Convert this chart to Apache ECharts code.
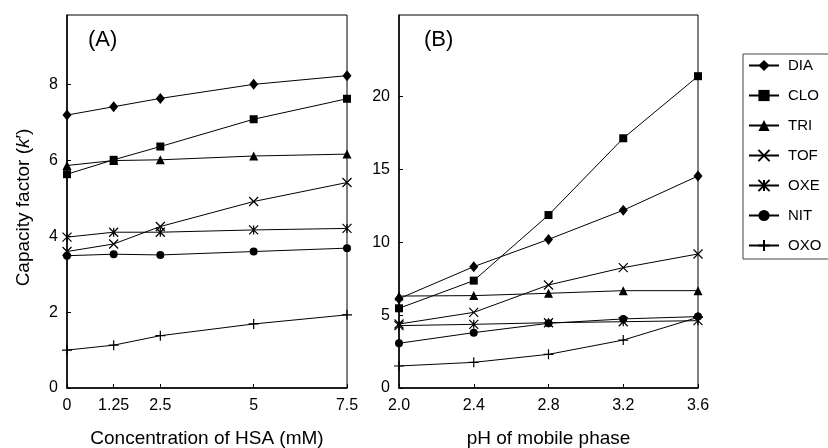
<!DOCTYPE html>
<html>
<head>
<meta charset="utf-8">
<script src="https://cdn.jsdelivr.net/npm/echarts@6/dist/echarts.min.js"></script>
<style>html,body{margin:0;padding:0;background:#fff}#c{width:828px;height:448px}</style>
</head>
<body>
<div id="c"></div>
<script>
// Panel A: concentration of HSA (mM)
const hsa = [0, 1.25, 2.5, 5, 7.5];
const hsaTicks = [0, 1.25, 2.5, 5, 7.5];
const kTicksA = [0, 2, 4, 6, 8];
const A_DIA = [7.2, 7.42, 7.64, 8.01, 8.24];
const A_CLO = [5.64, 6.02, 6.37, 7.09, 7.63];
const A_TRI = [5.87, 6.0, 6.02, 6.12, 6.17];
const A_TOF = [3.6, 3.8, 4.26, 4.92, 5.42];
const A_OXE = [3.98, 4.11, 4.11, 4.17, 4.21];
const A_NIT = [3.49, 3.53, 3.51, 3.6, 3.69];
const A_OXO = [1.0, 1.13, 1.38, 1.69, 1.93];

// Panel B: pH of mobile phase
const ph = [2.0, 2.4, 2.8, 3.2, 3.6];
const phTicks = [2.0, 2.4, 2.8, 3.2, 3.6];
const kTicksB = [0, 5, 10, 15, 20];
const B_DIA = [6.13, 8.33, 10.2, 12.2, 14.55];
const B_CLO = [5.47, 7.37, 11.87, 17.14, 21.4];
const B_TRI = [6.31, 6.34, 6.5, 6.68, 6.68];
const B_TOF = [4.39, 5.19, 7.07, 8.26, 9.2];
const B_OXE = [4.28, 4.37, 4.48, 4.55, 4.62];
const B_NIT = [3.07, 3.8, 4.44, 4.74, 4.9];
const B_OXO = [1.51, 1.76, 2.31, 3.29, 4.85];

const names = ['DIA', 'CLO', 'TRI', 'TOF', 'OXE', 'NIT', 'OXO'];
const dataA = [A_DIA, A_CLO, A_TRI, A_TOF, A_OXE, A_NIT, A_OXO];
const dataB = [B_DIA, B_CLO, B_TRI, B_TOF, B_OXE, B_NIT, B_OXO];

const symbols = {
  DIA: {symbol: 'diamond', size: [9, 11]},
  CLO: {symbol: 'rect', size: 8},
  TRI: {symbol: 'triangle', size: 9},
  TOF: {symbol: 'path://M0,0L10,10M10,0L0,10', size: 9},
  OXE: {symbol: 'path://M0,0L10,10M10,0L0,10M5,0L5,10', size: 9},
  NIT: {symbol: 'circle', size: 8},
  OXO: {symbol: 'path://M5,0L5,10M0,5L10,5', size: 10}
};

const font = 'Liberation Sans, Arial, sans-serif';

function mkSeries(idx, xs, arrs) {
  return names.map((n, i) => ({
    name: n,
    type: 'line',
    xAxisIndex: idx,
    yAxisIndex: idx,
    data: xs.map((x, j) => [x, arrs[i][j]]),
    symbol: symbols[n].symbol,
    symbolSize: symbols[n].size,
    showSymbol: true,
    animation: false,
    lineStyle: {color: '#000', width: 1},
    itemStyle: {color: '#000', borderColor: '#000', borderWidth: (n === 'TOF' || n === 'OXE' || n === 'OXO') ? 1.2 : 0},
    emphasis: {disabled: true}
  }));
}

function xAxis(idx, min, max, ticks, name, fmt) {
  return {
    type: 'value', gridIndex: idx, min: min, max: max,
    name: name, nameLocation: 'middle', nameGap: 41,
    nameTextStyle: {color: '#000', fontSize: 19, fontFamily: font},
    axisLine: {show: true, lineStyle: {color: '#000', width: 1.5}},
    axisTick: {show: true, inside: true, length: 4, customValues: ticks, lineStyle: {color: '#000'}},
    axisLabel: {customValues: ticks, color: '#000', fontSize: 16, fontFamily: font, margin: 10, formatter: fmt},
    splitLine: {show: false}
  };
}
function yAxis(idx, max, ticks, name) {
  const o = {
    type: 'value', gridIndex: idx, min: 0, max: max,
    axisLine: {show: true, lineStyle: {color: '#000', width: 1.5}},
    axisTick: {show: true, inside: true, length: 4, customValues: ticks, lineStyle: {color: '#000'}},
    axisLabel: {customValues: ticks, color: '#000', fontSize: 16, fontFamily: font, margin: 9},
    splitLine: {show: false}
  };
  if (name) {
    o.name = name;
    o.nameLocation = 'middle';
    o.nameGap = 34;
    o.nameTextStyle = {color: '#000', fontSize: 19, fontFamily: font, padding: [0, 12, 0, 0], rich: {i: {fontStyle: 'italic', fontSize: 19, fontFamily: font, color: '#000'}}};
  }
  return o;
}

const chart = echarts.init(document.getElementById('c'), null, {renderer: 'canvas'});
chart.setOption({
  backgroundColor: '#fff',
  animation: false,
  grid: [
    {left: 67, top: 15, width: 280, height: 373, show: true, borderColor: '#000', borderWidth: 1, backgroundColor: 'transparent', outerBoundsMode: 'none', containLabel: false},
    {left: 399, top: 15, width: 299, height: 373, show: true, borderColor: '#000', borderWidth: 1, backgroundColor: 'transparent', outerBoundsMode: 'none', containLabel: false}
  ],
  xAxis: [
    xAxis(0, 0, 7.5, hsaTicks, 'Concentration of HSA (mM)', v => String(v)),
    xAxis(1, 2.0, 3.6, phTicks, 'pH of mobile phase', v => v.toFixed(1))
  ],
  yAxis: [
    yAxis(0, 9.84, kTicksA, 'Capacity factor ({i|k}′)'),
    yAxis(1, 25.6, kTicksB, null)
  ],
  legend: {
    data: names,
    orient: 'vertical',
    left: 743, top: 54,
    itemWidth: 30, itemHeight: 14, itemGap: 15,
    padding: [4, 10, 6, 5],
    borderColor: '#444', borderWidth: 1,
    textStyle: {color: '#000', fontSize: 15, fontFamily: font, padding: [0, 0, 0, 4]},
    selectedMode: false
  },
  graphic: [
    {type: 'text', left: 88, top: 29, style: {text: '(A)', fontSize: 22, fontFamily: font, fill: '#000'}},
    {type: 'text', left: 424, top: 29, style: {text: '(B)', fontSize: 22, fontFamily: font, fill: '#000'}}
  ],
  series: mkSeries(0, hsa, dataA).concat(mkSeries(1, ph, dataB))
});
</script>
</body>
</html>
